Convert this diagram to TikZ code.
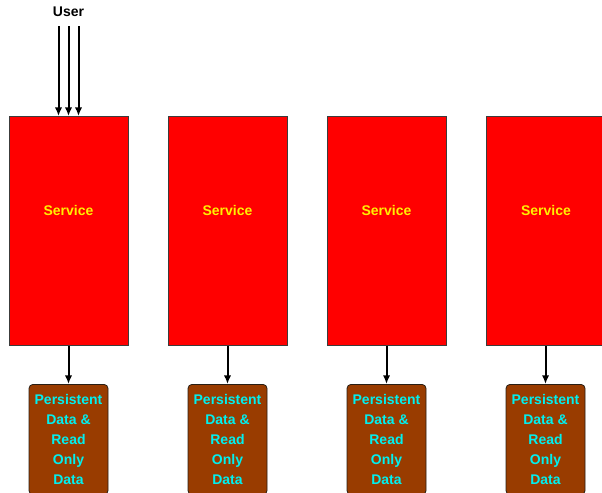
\documentclass[tikz,border=0pt]{standalone}
\usepackage{fontspec}
\setmainfont{Liberation Sans}
\usepackage{xcolor}
\usetikzlibrary{arrows.meta}

\begin{document}
\begin{tikzpicture}[x=0.75pt,y=0.75pt,yscale=-1,xscale=1,
		service/.style={draw={rgb, 255:red, 60; green, 60; blue, 60 },fill={rgb, 255:red, 255; green, 0; blue, 0 },line width=0.6,
			minimum width=89.25pt,minimum height=171.75pt,inner sep=0pt,anchor=north},
		servtext/.style={text={rgb, 255:red, 255; green, 240; blue, 0 },font=\fontsize{10.5}{15}\selectfont\bfseries},
		store/.style={draw={rgb, 255:red, 40; green, 30; blue, 20 },fill={rgb, 255:red, 153; green, 60; blue, 0 },rounded corners=3pt,line width=0.6,
			minimum width=59.25pt,inner xsep=0pt,inner ysep=7.5pt,anchor=north,align=center,
			text={rgb, 255:red, 0; green, 240; blue, 240 },font=\fontsize{10.5}{15}\selectfont\bfseries},
		flow/.style={line width=1.5,-{Latex[length=6.5pt,width=5.5pt]}}]
		\useasboundingbox (0,0) rectangle (602,492);
		
		% Text Node
		\node (user) at (68.5,12) [inner sep=0.75pt,font=\fontsize{10.5}{15}\selectfont\bfseries] {User};
		
		%Services
		\node (svc1) at (68.5,116) [service] {};
		\node (svc2) at (227.5,116) [service] {};
		\node (svc3) at (386.5,116) [service] {};
		\node (svc4) at (546,116) [service] {};
		\node at ([yshift=-15pt]svc1.center) [servtext] {Service};
		\node at ([yshift=-15pt]svc2.center) [servtext] {Service};
		\node at ([yshift=-15pt]svc3.center) [servtext] {Service};
		\node at ([yshift=-15pt]svc4.center) [servtext] {Service};
		
		%Data stores
		\node (db1) at (68.5,384) [store] {Persistent\\Data \&\\Read\\Only\\Data};
		\node (db2) at (227.5,384) [store] {Persistent\\Data \&\\Read\\Only\\Data};
		\node (db3) at (386.5,384) [store] {Persistent\\Data \&\\Read\\Only\\Data};
		\node (db4) at (545.5,384) [store] {Persistent\\Data \&\\Read\\Only\\Data};
		
		%Requests
		\draw [flow] ([xshift=-7.5pt,yshift=6pt]user.south) -- ([xshift=-7.5pt]svc1.north);
		\draw [flow] ([yshift=6pt]user.south) -- (svc1.north);
		\draw [flow] ([xshift=7.5pt,yshift=6pt]user.south) -- ([xshift=7.5pt]svc1.north);
		
		\draw [flow] (svc1.south) -- (db1.north);
		\draw [flow] (svc2.south) -- (db2.north);
		\draw [flow] (svc3.south) -- (db3.north);
		\draw [flow] (svc4.south -| db4.north) -- (db4.north);
\end{tikzpicture}
\end{document}
